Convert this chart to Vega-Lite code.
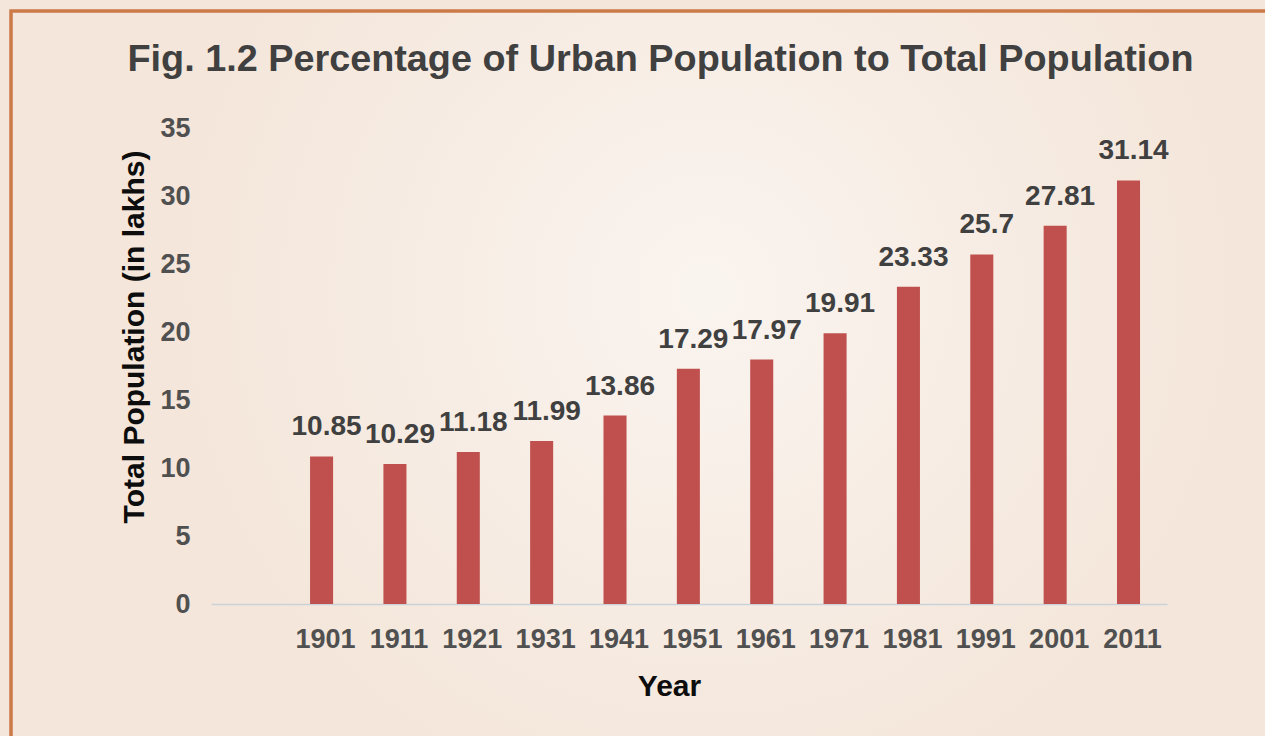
{
  "$schema": "https://vega.github.io/schema/vega-lite/v6.json",
  "width": 1265,
  "height": 736,
  "autosize": {"type": "none"},
  "padding": {"left": 11, "top": 11, "right": -11, "bottom": -11},
  "background": "#f4e6da",
  "config": {
    "view": {
      "stroke": "#cc7a48",
      "strokeWidth": 3.5,
      "fill": {
        "gradient": "radial",
        "x1": 0.55, "y1": 0.43, "r1": 0,
        "x2": 0.55, "y2": 0.43, "r2": 0.42,
        "stops": [
          {"offset": 0, "color": "#faf4ef"},
          {"offset": 0.5, "color": "#f7ede5"},
          {"offset": 1, "color": "#f4e6da"}
        ]
      }
    },
    "font": "Liberation Sans"
  },
  "title": {
    "text": "Fig. 1.2 Percentage of Urban Population to Total Population",
    "fontSize": 37.8,
    "fontWeight": "bold",
    "color": "#404040",
    "anchor": "middle",
    "frame": "group",
    "baseline": "alphabetic",
    "offset": 0,
    "dy": 98,
    "dx": 17
  },
  "data": {
    "values": [
      {"year": "1901", "value": 10.85},
      {"year": "1911", "value": 10.29},
      {"year": "1921", "value": 11.18},
      {"year": "1931", "value": 11.99},
      {"year": "1941", "value": 13.86},
      {"year": "1951", "value": 17.29},
      {"year": "1961", "value": 17.97},
      {"year": "1971", "value": 19.91},
      {"year": "1981", "value": 23.33},
      {"year": "1991", "value": 25.7},
      {"year": "2001", "value": 27.81},
      {"year": "2011", "value": 31.14}
    ]
  },
  "encoding": {
    "x": {
      "field": "year",
      "type": "ordinal",
      "scale": {"range": [200, 1156], "paddingInner": 0.686, "paddingOuter": 0.859, "align": 0.786},
      "axis": {
        "title": "Year",
        "labelAngle": 0,
        "domainColor": "#c9d1d9",
        "domainWidth": 1.5,
        "ticks": false,
        "tickSize": 0,
        "grid": false,
        "labelPadding": 22,
        "labelBaseline": "top",
        "labelOffset": 4,
        "offset": -143,
        "labelFontSize": 27,
        "labelFontWeight": "bold",
        "labelColor": "#505050",
        "titleFontSize": 30,
        "titleFontWeight": "bold",
        "titleColor": "#0d0d0d",
        "titleX": 658,
        "titleY": 91,
        "titleBaseline": "alphabetic",
        "titleAlign": "center"
      }
    },
    "y": {
      "field": "value",
      "type": "quantitative",
      "scale": {"domain": [0, 35], "range": [593, 117], "nice": false},
      "axis": {
        "title": "Total Population (in lakhs)",
        "values": [0, 5, 10, 15, 20, 25, 30, 35],
        "domain": false,
        "ticks": false,
        "tickSize": 0,
        "grid": false,
        "labelPadding": 0,
        "offset": -179,
        "labelFontSize": 27,
        "labelFontWeight": "bold",
        "labelColor": "#505050",
        "titleFontSize": 30,
        "titleFontWeight": "bold",
        "titleColor": "#0d0d0d",
        "titleX": -47,
        "titleY": 325.5,
        "titleAngle": 270,
        "titleAlign": "center",
        "titleBaseline": "alphabetic"
      }
    }
  },
  "layer": [
    {"mark": {"type": "bar", "color": "#c0504d"}},
    {
      "mark": {"type": "text", "baseline": "alphabetic", "dy": -21, "dx": 5, "fontSize": 28, "fontWeight": "bold", "color": "#404040"},
      "encoding": {"text": {"field": "value", "type": "nominal"}}
    }
  ]
}
